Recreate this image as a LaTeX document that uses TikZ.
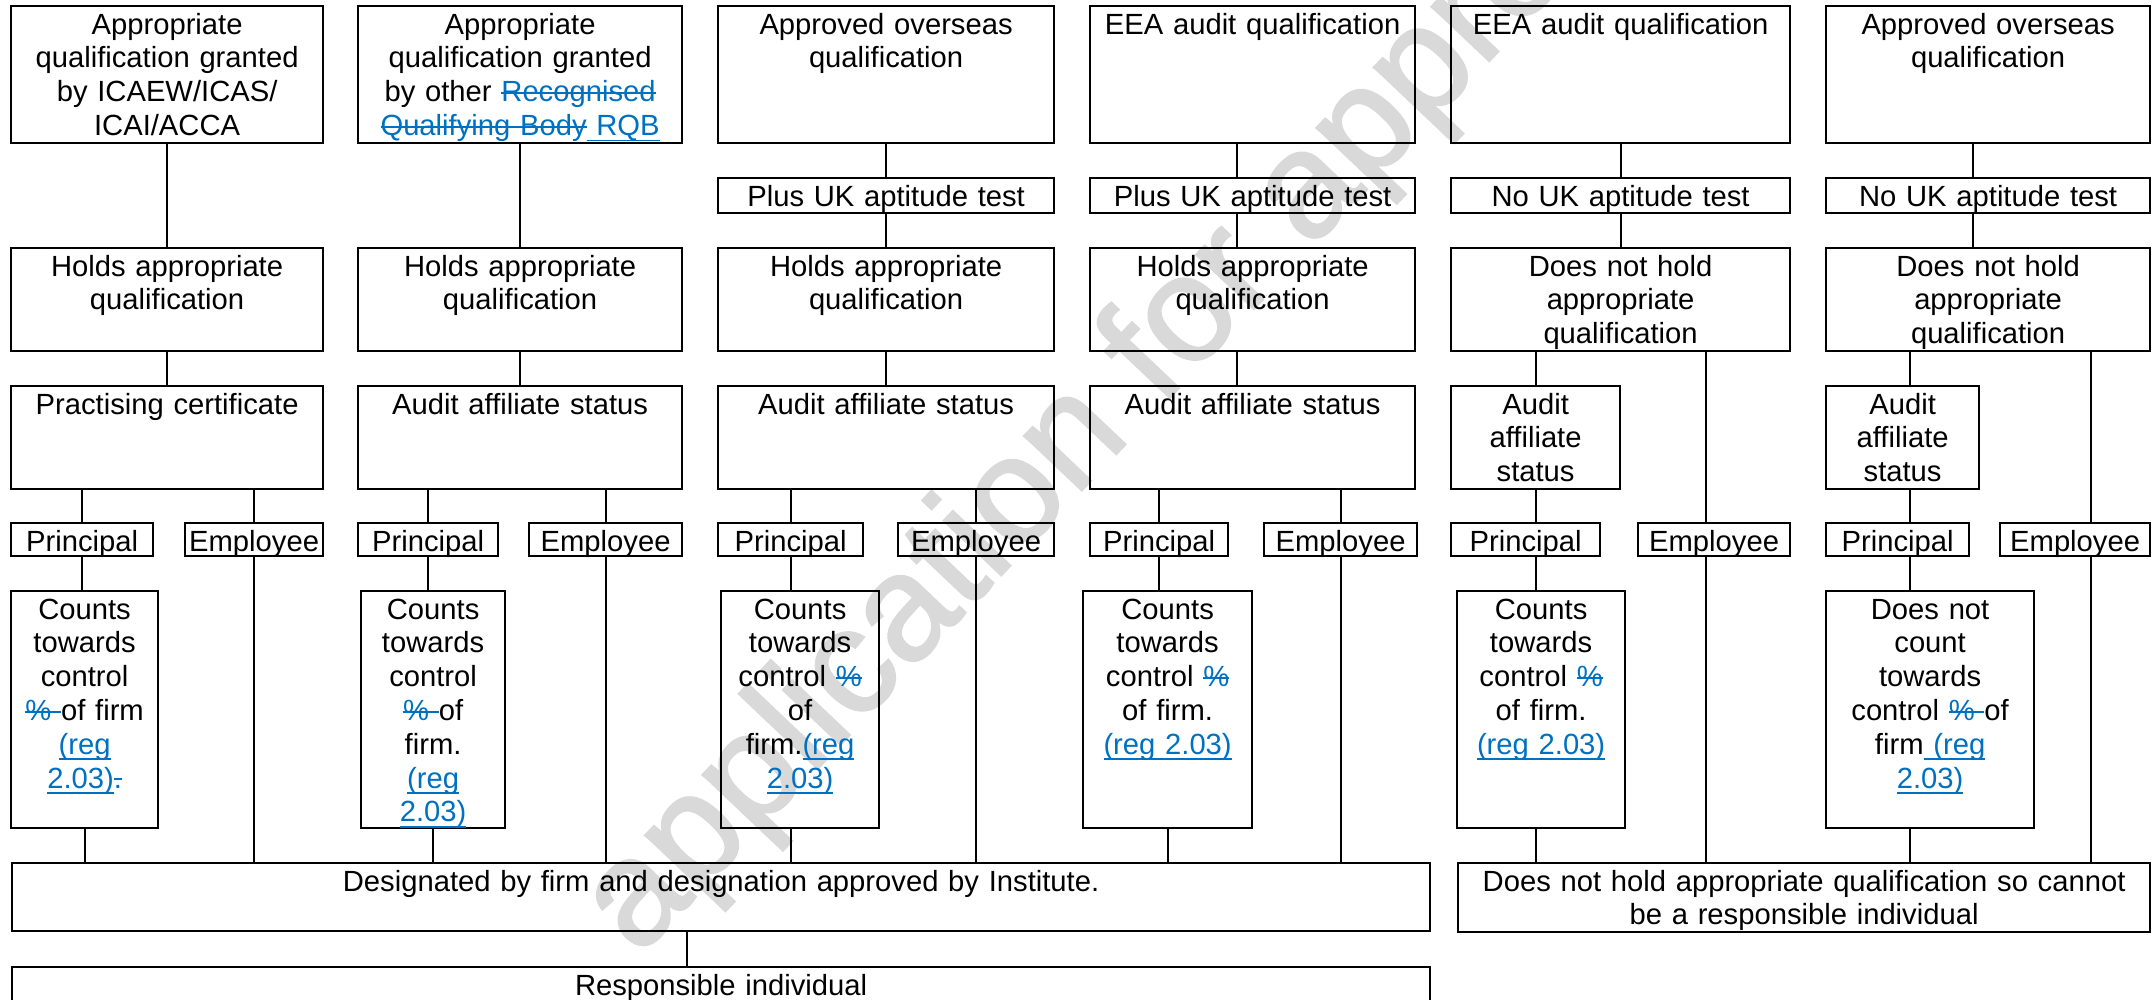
\documentclass[tikz,border=0pt]{standalone}
\usepackage{fontspec}
\setmainfont{Liberation Sans}
\newfontfamily\stampfont{Liberation Sans}[FakeBold=1.5]
\usepackage{xcolor}
\definecolor{revBlue}{RGB}{0,112,192}
\definecolor{stampGrey}{RGB}{217,217,217}
\newsavebox\revbox
\newcommand\revins[1]{\leavevmode{\color{revBlue}\sbox\revbox{#1}\rlap{\rule[-0.2em]{\wd\revbox}{0.45pt}}\usebox\revbox}}
\newcommand\revdel[1]{\leavevmode{\color{revBlue}\sbox\revbox{#1}\rlap{\rule[0.27em]{\wd\revbox}{0.45pt}}\usebox\revbox}}

\begin{document}
\begin{tikzpicture}[
    x=0.25pt, y=-0.25pt,
    box/.style={rectangle, draw, line width=0.55pt, anchor=north west, inner sep=0pt, align=center, text height=7pt, font=\fontsize{7.3}{8.45}\selectfont},
    toprow/.style={box, text depth=27.25pt},
    testrow/.style={box, text depth=1.75pt},
    midrow/.style={box, text depth=18.75pt},
    rolerow/.style={box, text depth=1.25pt},
    countrow/.style={box, text depth=52.25pt},
    link/.style={line width=0.45pt},
    stamp/.style={rotate=46.5, anchor=base west, inner sep=0pt, text=stampGrey, font=\stampfont\fontsize{37.5}{40}\selectfont}
]
\useasboundingbox (0,0) rectangle (2152,999);
\clip (0,0) rectangle (2152,999);

\node[stamp] (wm) at (638,958) {application for approval};

% Qualifications
\node[toprow, text width=78pt] (q1) at (10,5) {Appropriate\\qualification granted\\by ICAEW/ICAS/\\ICAI/ACCA};
\node[toprow, text width=81pt] (q2) at (357,5) {Appropriate\\qualification granted\\by other \revdel{Recognised}\\\revdel{Qualifying Body}\revins{\mbox{ RQB}}};
\node[toprow, text width=84pt] (q3) at (717,5) {Approved overseas\\qualification};
\node[toprow, text width=81.25pt] (q4) at (1089,5) {EEA audit qualification};
\node[toprow, text width=84.75pt] (q5) at (1450,5) {EEA audit qualification};
\node[toprow, text width=81pt] (q6) at (1825,5) {Approved overseas\\qualification};

\node[testrow, text width=84pt] (t3) at (717,177) {Plus UK aptitude test};
\node[testrow, text width=81.25pt] (t4) at (1089,177) {Plus UK aptitude test};
\node[testrow, text width=84.75pt] (t5) at (1450,177) {No UK aptitude test};
\node[testrow, text width=81pt] (t6) at (1825,177) {No UK aptitude test};

\node[midrow, text width=78pt] (h1) at (10,247) {Holds appropriate\\qualification};
\node[midrow, text width=81pt] (h2) at (357,247) {Holds appropriate\\qualification};
\node[midrow, text width=84pt] (h3) at (717,247) {Holds appropriate\\qualification};
\node[midrow, text width=81.25pt] (h4) at (1089,247) {Holds appropriate\\qualification};
\node[midrow, text width=84.75pt] (h5) at (1450,247) {Does not hold\\appropriate\\qualification};
\node[midrow, text width=81pt] (h6) at (1825,247) {Does not hold\\appropriate\\qualification};

% Status
\node[midrow, text width=78pt] (s1) at (10,385) {Practising certificate};
\node[midrow, text width=81pt] (s2) at (357,385) {Audit affiliate status};
\node[midrow, text width=84pt] (s3) at (717,385) {Audit affiliate status};
\node[midrow, text width=81.25pt] (s4) at (1089,385) {Audit affiliate status};
\node[midrow, text width=42.25pt] (s5) at (1450,385) {Audit\\affiliate\\status};
\node[midrow, text width=38.25pt] (s6) at (1825,385) {Audit\\affiliate\\status};

\node[rolerow, text width=35.5pt] (p1) at (10,522) {Principal};
\node[rolerow, text width=34.5pt] (e1) at (184,522) {Employee};
\node[rolerow, text width=35pt] (p2) at (357,522) {Principal};
\node[rolerow, text width=38.25pt] (e2) at (528,522) {Employee};
\node[rolerow, text width=36.25pt] (p3) at (717,522) {Principal};
\node[rolerow, text width=39pt] (e3) at (897,522) {Employee};
\node[rolerow, text width=34.5pt] (p4) at (1089,522) {Principal};
\node[rolerow, text width=38.25pt] (e4) at (1263,522) {Employee};
\node[rolerow, text width=37.25pt] (p5) at (1450,522) {Principal};
\node[rolerow, text width=38pt] (e5) at (1637,522) {Employee};
\node[rolerow, text width=35.75pt] (p6) at (1825,522) {Principal};
\node[rolerow, text width=37.5pt] (e6) at (1999,522) {Employee};

% Control
\node[countrow, text width=36.75pt] (c1) at (10,590) {Counts\\towards\\control\\\revdel{\mbox{\% }}of firm\\\revins{(reg}\\\revins{2.03)}\revdel{.}};
\node[countrow, text width=36pt] (c2) at (360,590) {Counts\\towards\\control\\\revdel{\mbox{\% }}of\\firm.\\\revins{(reg}\\\revins{2.03)}};
\node[countrow, text width=39.5pt] (c3) at (720,590) {Counts\\towards\\control \revdel{\%}\\of\\firm.\revins{(reg}\\\revins{2.03)}};
\node[countrow, text width=42.25pt] (c4) at (1082,590) {Counts\\towards\\control \revdel{\%}\\of firm.\\\revins{(reg 2.03)}};
\node[countrow, text width=42pt] (c5) at (1456,590) {Counts\\towards\\control \revdel{\%}\\of firm.\\\revins{(reg 2.03)}};
\node[countrow, text width=52pt] (c6) at (1825,590) {Does not\\count\\towards\\control \revdel{\mbox{\% }}of\\firm\revins{\mbox{ (reg}}\\\revins{2.03)}};

% Outcome
\node[box, text width=354.5pt, text depth=10pt] (desig) at (11,862) {Designated by firm and designation approved by Institute.};
\node[box, text width=173pt, text depth=10.25pt] (nohold) at (1457,862) {Does not hold appropriate qualification so cannot\\be a responsible individual};
\node[box, text width=354.5pt, text depth=5pt] (resp) at (11,966) {Responsible individual};

\coordinate (k4) at ([xshift=-4pt]q4.south);
\coordinate (k5) at ([xshift=-2pt]e5.north);
\coordinate (k6) at ([xshift=-3.75pt]q6.south);
\coordinate (m6) at ([xshift=1.9pt]s6.north);
\coordinate (n6) at ([xshift=4pt]e6.north);

\draw[link] (q1) -- (h1);
\draw[link] (h1) -- (s1);
\draw[link] (p1) -- (p1 |- s1.south);
\draw[link] (e1) -- (e1 |- s1.south);
\draw[link] (p1) -- (p1 |- c1.north);
\draw[link] (c1) -- (c1 |- desig.north);
\draw[link] (e1) -- (e1 |- desig.north);

\draw[link] (q2) -- (h2);
\draw[link] (h2) -- (s2);
\draw[link] (p2) -- (p2 |- s2.south);
\draw[link] (e2) -- (e2 |- s2.south);
\draw[link] (p2) -- (p2 |- c2.north);
\draw[link] (c2) -- (c2 |- desig.north);
\draw[link] (e2) -- (e2 |- desig.north);

\draw[link] (q3) -- (t3);
\draw[link] (t3) -- (h3);
\draw[link] (h3) -- (s3);
\draw[link] (p3) -- (p3 |- s3.south);
\draw[link] (e3) -- (e3 |- s3.south);
\draw[link] (p3) -- (p3 |- c3.north);
\draw[link] (p3 |- c3.south) -- (p3 |- desig.north);
\draw[link] (e3) -- (e3 |- desig.north);

\draw[link] (k4) -- (k4 |- t4.north);
\draw[link] (k4 |- t4.south) -- (k4 |- h4.north);
\draw[link] (k4 |- h4.south) -- (k4 |- s4.north);
\draw[link] (p4) -- (p4 |- s4.south);
\draw[link] (e4) -- (e4 |- s4.south);
\draw[link] (p4) -- (p4 |- c4.north);
\draw[link] (c4) -- (c4 |- desig.north);
\draw[link] (e4) -- (e4 |- desig.north);

\draw[link] (q5) -- (t5);
\draw[link] (t5) -- (h5);
\draw[link] (s5) -- (s5 |- h5.south);
\draw[link] (k5) -- (k5 |- h5.south);
\draw[link] (s5) -- (s5 |- p5.north);
\draw[link] (s5 |- p5.south) -- (s5 |- c5.north);
\draw[link] (s5 |- c5.south) -- (s5 |- nohold.north);
\draw[link] (k5 |- e5.south) -- (k5 |- nohold.north);

\draw[link] (k6) -- (k6 |- t6.north);
\draw[link] (k6 |- t6.south) -- (k6 |- h6.north);
\draw[link] (m6) -- (m6 |- h6.south);
\draw[link] (n6) -- (n6 |- h6.south);
\draw[link] (m6 |- s6.south) -- (m6 |- p6.north);
\draw[link] (m6 |- p6.south) -- (m6 |- c6.north);
\draw[link] (m6 |- c6.south) -- (m6 |- nohold.north);
\draw[link] (n6 |- e6.south) -- (n6 |- nohold.north);

\draw[link] ([xshift=-8.5pt]desig.south) -- ([xshift=-8.5pt]resp.north);

\end{tikzpicture}
\end{document}
